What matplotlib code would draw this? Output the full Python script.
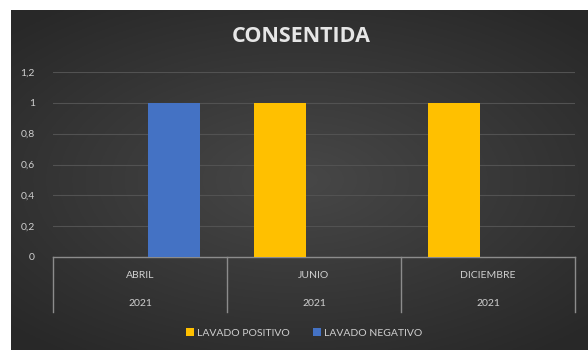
import matplotlib.pyplot as plt
import matplotlib.transforms as mtransforms
import numpy as np

months = ['ABRIL', 'JUNIO', 'DICIEMBRE']
years = ['2021', '2021', '2021']
lavado_positivo = [0, 1, 1]
lavado_negativo = [1, 0, 0]
y_ticks = [0, 0.2, 0.4, 0.6, 0.8, 1, 1.2]
y_labels = ['0', '0,2', '0,4', '0,6', '0,8', '1', '1,2']

txt = '#cfcfcf'
plt.rcParams['font.family'] = ['Lato', 'DejaVu Sans']

fig = plt.figure(figsize=(5.88, 3.5), dpi=100, facecolor='white')

# dark radial gradient background
bg = fig.add_axes([11 / 588, 0, 1 - 11 / 588, 340 / 350])
yy, xx = np.mgrid[-1:1:200j, -1:1:300j]
r = np.sqrt((xx * 0.9) ** 2 + (yy * 1.0) ** 2)
shade = 0.28 - 0.12 * np.clip(r / 1.25, 0, 1)
bg.imshow(np.dstack([shade] * 3), aspect='auto', extent=[0, 1, 0, 1])
bg.set_axis_off()

ax = fig.add_axes([53 / 588, 1 - 257 / 350, (575 - 53) / 588, (257 - 72) / 350])
ax.patch.set_alpha(0)
x = np.arange(len(months))
w = 0.30
off = 0.195
ax.bar(x - off, lavado_positivo, w, color='#FFC000', label='LAVADO POSITIVO', zorder=3)
ax.bar(x + off, lavado_negativo, w, color='#4472C4', label='LAVADO NEGATIVO', zorder=3)

ax.set_xlim(-0.5, len(months) - 0.5)
ax.set_ylim(0, 1.2)
ax.set_yticks(y_ticks)
ax.set_yticklabels(y_labels, color=txt, fontsize=7.5)
ax.tick_params(axis='y', length=0, pad=13)
ax.set_xticks([])
ax.grid(axis='y', color='#525252', linewidth=0.8, zorder=0)
for s in ['top', 'right', 'left']:
    ax.spines[s].set_visible(False)
ax.spines['bottom'].set_color('#8c8c8c')
ax.spines['bottom'].set_linewidth(1.0)

# multi-level category axis
trans = mtransforms.blended_transform_factory(ax.transData, ax.transAxes)
for b in np.arange(len(months) + 1) - 0.5:
    ax.plot([b, b], [0, -55 / 185], color='#8c8c8c', lw=1.0, transform=trans, clip_on=False)
for i, (m, yr) in enumerate(zip(months, years)):
    ax.text(i, -19 / 185, m, transform=trans, ha='center', va='center', color=txt, fontsize=7.5)
    ax.text(i, -46 / 185, yr, transform=trans, ha='center', va='center', color=txt, fontsize=7.5)

fig.text(301 / 588, 1 - 36 / 350, 'CONSENTIDA', ha='center', va='center',
         color='#e6e6e6', fontsize=15.5, fontweight='bold', family=['Open Sans', 'DejaVu Sans'])

leg = fig.legend(loc='center', bbox_to_anchor=(304 / 588, 1 - 333 / 350), ncol=2,
                 frameon=False, fontsize=7.5, handlelength=0.8, handleheight=0.8,
                 columnspacing=2.2, handletextpad=0.3)
for t in leg.get_texts():
    t.set_color(txt)

fig.savefig('out.png', dpi=100, facecolor='white')
